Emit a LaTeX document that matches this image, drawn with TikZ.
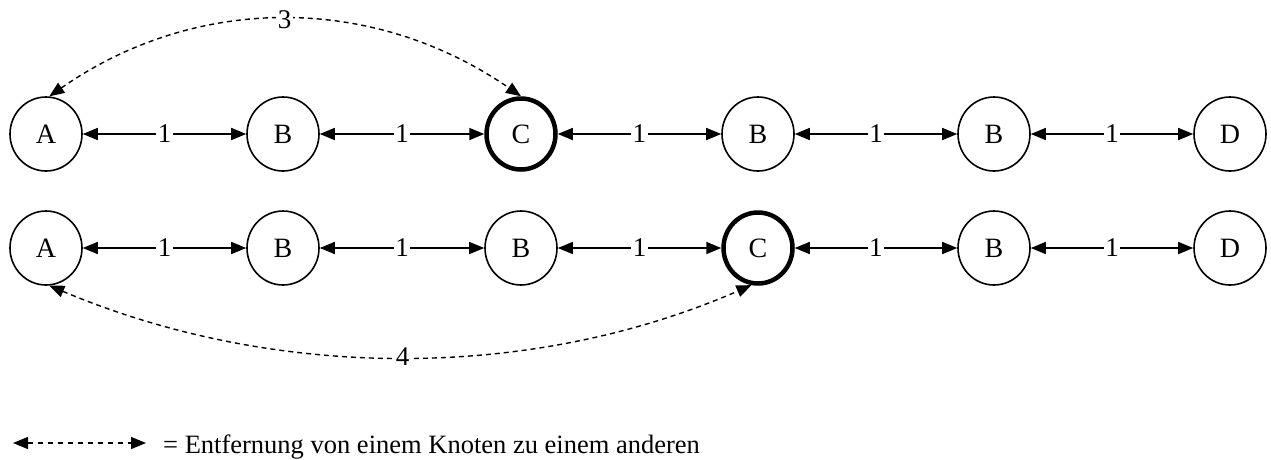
\documentclass[tikz,border=0pt]{standalone}
\usepackage{fontspec}
\setmainfont{Liberation Serif}
\usetikzlibrary{shapes.geometric,arrows.meta}
\begin{document}
\begin{tikzpicture}[x=1pt,y=-1pt,
  knot/.style={ellipse,draw,line width=1.6pt,minimum width=72pt,minimum height=74pt,inner sep=0pt,font=\fontsize{28}{32}\selectfont},
  heavy/.style={knot,line width=4.5pt,minimum width=69pt,minimum height=71pt},
  tip/.tip={Triangle[length=15pt,width=12pt]},
  link/.style={tip-tip,line width=1.6pt},
  dist/.style={tip-tip,line width=1.4pt,dash pattern=on 5pt off 4pt},
  lbl/.style={fill=white,inner sep=1.5pt,font=\fontsize{27}{30}\selectfont}]
\useasboundingbox (0,0) rectangle (1271,459);
% row 1
\node[knot]  (a1) at (46,134) {A};
\node[knot]  (b1) at (283,134) {B};
\node[heavy] (c1) at (521,134) {C};
\node[knot]  (d1) at (758,134) {B};
\node[knot]  (e1) at (994,134) {B};
\node[knot]  (f1) at (1230,134) {D};
% row 2
\node[knot]  (a2) at (46,248) {A};
\node[knot]  (b2) at (283,248) {B};
\node[knot]  (c2) at (521,248) {B};
\node[heavy] (d2) at (758,248) {C};
\node[knot]  (e2) at (994,248) {B};
\node[knot]  (f2) at (1230,248) {D};
\foreach \r in {1,2}{
  \draw[link] (a\r) -- node[lbl]{1} (b\r);
  \draw[link] (b\r) -- node[lbl]{1} (c\r);
  \draw[link] (c\r) -- node[lbl]{1} (d\r);
  \draw[link] (d\r) -- node[lbl]{1} (e\r);
  \draw[link] (e\r) -- node[lbl]{1} (f\r);
}
\draw[dist] (a1.85) .. controls (196,-6) and (373,-6) .. node[lbl]{3} (c1.90);
\draw[dist] (a2.-85) .. controls (276,381) and (531,381) .. node[lbl]{4} (d2.-100);
% legend
\coordinate (l1) at (13,443);
\coordinate (l2) at (146,443);
\draw[dist,line width=1.3pt,dash pattern=on 5pt off 5pt] (l1) -- (l2);
\node[anchor=base west,inner sep=0pt,font=\fontsize{26.5}{30}\selectfont] (leg) at (163,453) {= Entfernung von einem Knoten zu einem anderen};
\end{tikzpicture}
\end{document}
